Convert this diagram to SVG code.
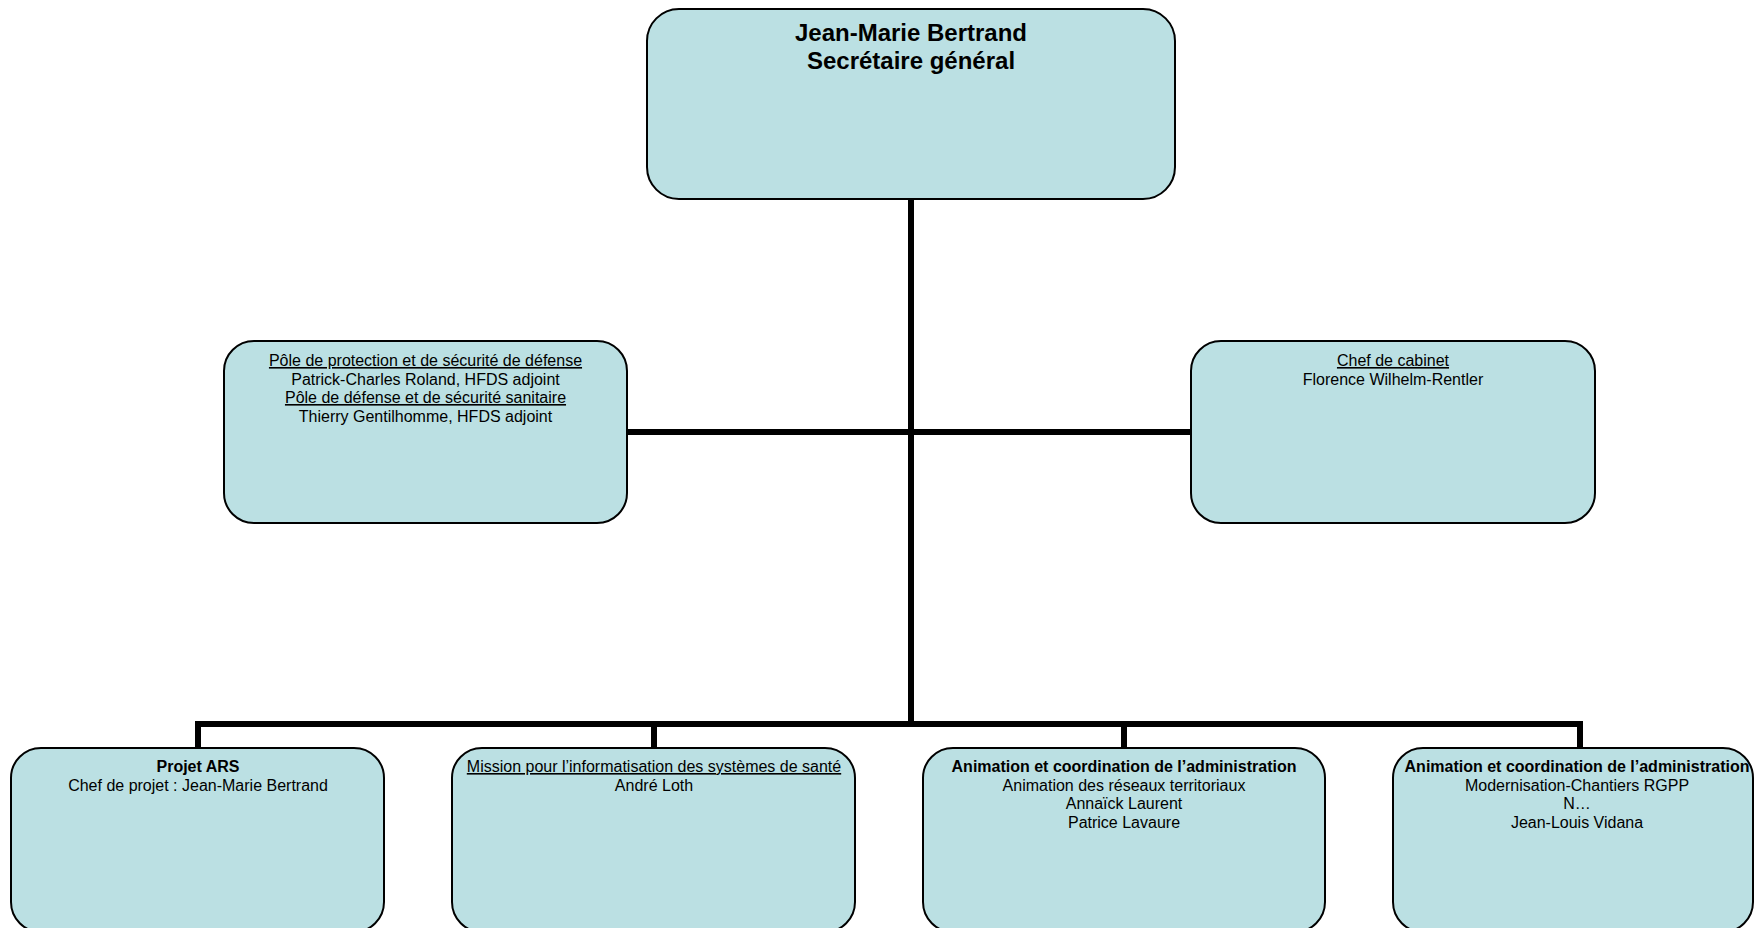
<svg xmlns="http://www.w3.org/2000/svg" width="1755" height="928" viewBox="0 0 1755 928">
<style>
.box{fill:#BBE0E3;stroke:#000;stroke-width:2}
.t{font-family:"Liberation Sans",Arial,sans-serif;font-size:16px;fill:#000;text-anchor:middle}
.big{font-size:24px;font-weight:bold}
.b{font-weight:bold}
.u{text-decoration:underline}
.c{stroke:#000;stroke-width:6;fill:none}
</style>
<rect width="1755" height="928" fill="#fff"/>
<g id="connectors">
<line class="c" x1="911" y1="199" x2="911" y2="727"/>
<line class="c" x1="627" y1="432" x2="1191" y2="432"/>
<polyline class="c" points="198,748 198,724 1580,724 1580,748" stroke-linejoin="miter"/>
<line class="c" x1="654" y1="724" x2="654" y2="748"/>
<line class="c" x1="1124" y1="724" x2="1124" y2="748"/>
</g>
<g id="node-sg">
<rect class="box" x="647" y="9" width="528" height="190" rx="32"/>
<text class="t big" x="911" y="41">Jean-Marie Bertrand</text>
<text class="t big" x="911" y="69">Secrétaire général</text>
</g>
<g id="node-pole">
<rect class="box" x="224" y="341" width="403" height="182" rx="30"/>
<text class="t u" x="425.5" y="366">Pôle de protection et de sécurité de défense</text>
<text class="t" x="425.5" y="384.5">Patrick-Charles Roland, HFDS adjoint</text>
<text class="t u" x="425.5" y="403">Pôle de défense et de sécurité sanitaire</text>
<text class="t" x="425.5" y="421.5">Thierry Gentilhomme, HFDS adjoint</text>
</g>
<g id="node-cabinet">
<rect class="box" x="1191" y="341" width="404" height="182" rx="30"/>
<text class="t u" x="1393" y="366">Chef de cabinet</text>
<text class="t" x="1393" y="384.5">Florence Wilhelm-Rentler</text>
</g>
<g id="node-ars">
<rect class="box" x="11" y="748" width="373" height="184" rx="30"/>
<text class="t b" x="198" y="772">Projet ARS</text>
<text class="t" x="198" y="790.5">Chef de projet : Jean-Marie Bertrand</text>
</g>
<g id="node-mission">
<rect class="box" x="452" y="748" width="403" height="184" rx="30"/>
<text class="t u" x="654" y="772">Mission pour l’informatisation des systèmes de santé</text>
<text class="t" x="654" y="790.5">André Loth</text>
</g>
<g id="node-animation1">
<rect class="box" x="923" y="748" width="402" height="184" rx="30"/>
<text class="t b" x="1124" y="772">Animation et coordination de l’administration</text>
<text class="t" x="1124" y="790.5">Animation des réseaux territoriaux</text>
<text class="t" x="1124" y="809">Annaïck Laurent</text>
<text class="t" x="1124" y="827.5">Patrice Lavaure</text>
</g>
<g id="node-animation2">
<rect class="box" x="1393" y="748" width="360" height="184" rx="30"/>
<text class="t b" x="1577" y="772">Animation et coordination de l’administration</text>
<text class="t" x="1577" y="790.5">Modernisation-Chantiers RGPP</text>
<text class="t" x="1577" y="809">N…</text>
<text class="t" x="1577" y="827.5">Jean-Louis Vidana</text>
</g>
</svg>
